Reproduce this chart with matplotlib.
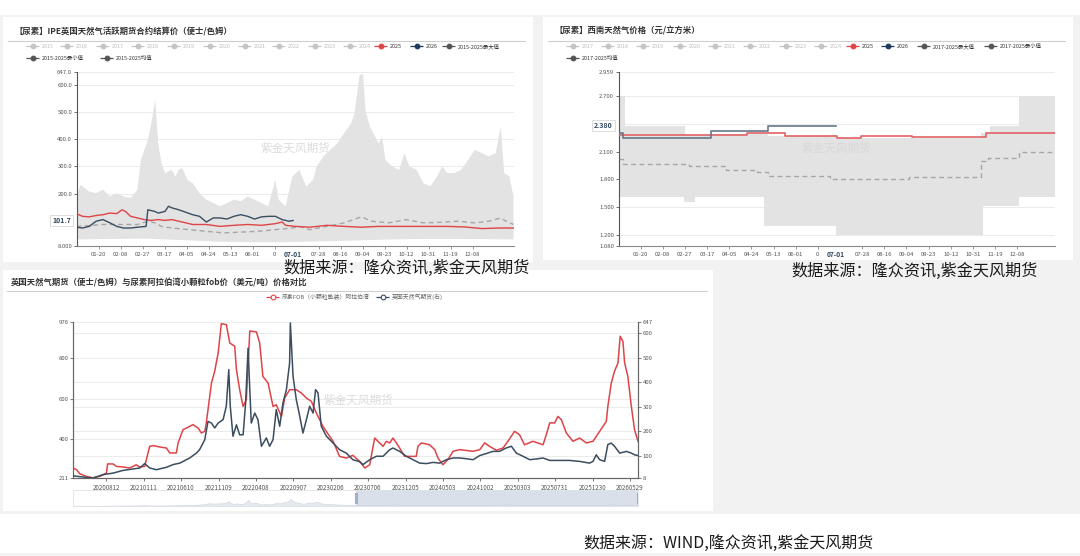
import matplotlib
matplotlib.use('Agg')
import matplotlib.pyplot as plt
from matplotlib.patches import Rectangle
import numpy as np

plt.rcParams['font.family'] = ['Noto Sans CJK SC', 'DejaVu Sans']
plt.rcParams['axes.unicode_minus'] = False

# ---------------- data: panel A (IPE UK gas, pence/therm, seasonal) ----------------
A_title = '【尿素】IPE英国天然气活跃期货合约结算价（便士/色姆）'
A_legend_years = ['2015', '2016', '2017', '2018', '2019', '2020', '2021', '2022', '2023', '2024']
A_legend_main = ['2025', '2026', '2015-2025最大值']
A_legend_row2 = ['2015-2025最小值', '2015-2025均值']
A_max_days = [0, 3.6, 11.0, 16.9, 22.9, 28.8, 34.8, 40.7, 46.7, 52.6, 55.6, 61.6, 64.5, 67.5, 68.1, 70.5,
              73.4, 76.4, 82.4, 85.3, 88.3, 91.3, 95.7, 100.2, 106.2, 112.1, 118.0, 124.0, 129.9, 135.9,
              141.8, 147.8, 153.7, 159.7, 165.6, 171.6, 174.5, 180.5, 186.4, 192.4, 198.3, 204.3, 207.3,
              213.2, 219.1, 225.1, 231.0, 237.0, 240.0, 244.4, 247.4, 249.5, 253.3, 257.8, 260.8, 263.8,
              266.7, 272.7, 278.6, 283.1, 287.5, 293.5, 299.4, 305.4, 311.3, 315.8, 320.2, 326.2, 332.1,
              338.1, 344.0, 350.0, 355.9, 361.9, 366.3, 369.3, 373.8, 377.3]
A_max = [190, 233, 208, 202, 215, 190, 202, 190, 184, 215, 324, 397, 458, 532, 545, 385,
         312, 276, 288, 263, 288, 294, 251, 239, 202, 178, 166, 154, 166, 178,
         172, 190, 178, 166, 154, 251, 178, 154, 263, 288, 227, 251, 300,
         337, 361, 385, 422, 458, 495, 635, 641, 507, 446, 410, 385, 410,
         324, 300, 288, 349, 300, 288, 239, 227, 263, 300, 276, 276, 288,
         324, 361, 349, 337, 349, 446, 276, 263, 190]
A_min_days = [0, 30, 60, 90, 120, 150, 180, 210, 240, 270, 300, 330, 360, 377.3]
A_min = [32, 34, 35, 30, 24, 22, 22, 25, 28, 32, 34, 34, 33, 32]
A_mean_days = [0, 11.0, 22.9, 37.8, 52.6, 61.6, 67.5, 73.4, 82.4, 97.2, 112.1, 127.0, 141.8, 156.7,
               171.6, 186.4, 192.4, 201.3, 216.2, 231.0, 245.9, 254.8, 269.7, 284.6, 299.4, 314.3,
               329.2, 344.0, 355.9, 366.3, 370.8, 377.3]
A_mean = [80, 83, 87, 87, 87, 99, 93, 80, 74, 68, 62, 56, 59, 62,
          68, 74, 80, 68, 80, 93, 115, 99, 93, 105, 93, 95,
          99, 93, 99, 111, 99, 87]
A_2025_days = [0, 5.1, 11.0, 16.9, 22.9, 28.8, 34.8, 39.3, 42.2, 46.7, 52.6, 58.6, 64.5, 70.5, 76.4,
               82.4, 88.3, 94.3, 100.2, 112.1, 124.0, 135.9, 147.8, 159.7, 171.6, 177.5, 180.5, 188.9,
               201.3, 216.2, 231.0, 245.9, 260.8, 275.6, 290.5, 305.4, 320.2, 335.1, 350.0, 364.8, 377.3]
A_2025 = [127, 117, 115, 120, 123, 129, 127, 141, 135, 117, 111, 105, 102, 105, 102,
          105, 99, 93, 87, 87, 80, 84, 87, 84, 90, 96, 84, 80,
          77, 84, 80, 77, 80, 80, 80, 80, 80, 78, 72, 74, 74]
A_2026_days = [0, 5.1, 11.0, 16.9, 22.9, 28.8, 34.8, 40.7, 46.7, 52.6, 60.1, 61.6, 67.5, 70.5, 76.4,
               79.4, 82.4, 88.3, 94.3, 100.2, 106.2, 112.1, 118.0, 124.0, 129.9, 135.9, 141.8, 147.8,
               153.7, 159.7, 165.6, 171.6, 177.5, 183.5, 187.0]
A_2026 = [77, 74, 80, 99, 105, 93, 80, 74, 74, 77, 80, 141, 135, 129, 135,
          154, 148, 141, 132, 123, 117, 96, 111, 111, 107, 117, 123, 117,
          107, 115, 117, 117, 105, 99, 101.7]
A_yticks = [8, 200, 300, 400, 500, 600, 647]
A_ylabels = ['8.000', '200.0', '300.0', '400.0', '500.0', '600.0', '647.0']
A_grid = [100, 200, 300, 400, 500, 600, 647]

# ---------------- data: panel B (southwest China gas price, yuan/m3) ----------------
B_title = '【尿素】西南天然气价格（元/立方米）'
B_legend_years = ['2017', '2018', '2019', '2020', '2021', '2022', '2023', '2024']
B_legend_main = ['2025', '2026', '2017-2025最大值', '2017-2025最小值']
B_legend_row2 = ['2017-2025均值']
B_band_days = [0, 5.6, 55.8, 57.2, 65.5, 77.9, 124.5, 128.0, 186.4, 310.9, 312.4, 318.3, 343.4, 374.4]
B_max = [2.70, 2.376, 2.376, 2.28, 2.28, 2.29, 2.29, 2.27, 2.25, 2.30, 2.30, 2.376, 2.70, 2.70]
B_min = [1.613, 1.613, 1.552, 1.552, 1.613, 1.613, 1.30, 1.30, 1.20, 1.20, 1.516, 1.516, 1.613, 1.613]
B_mean_days = [0, 4.1, 60.2, 92.6, 119.2, 128.0, 181.1, 249.0, 310.9, 316.8, 343.4, 374.4]
B_mean = [2.02, 1.97, 1.94, 1.90, 1.88, 1.837, 1.805, 1.83, 2.00, 2.03, 2.096, 2.096]
B_2025_days = [0, 110.3, 142.8, 187.0, 207.7, 251.9, 315.4, 374.4]
B_2025 = [2.279, 2.304, 2.268, 2.243, 2.268, 2.254, 2.297, 2.297]
B_2026_days = [0, 4.1, 79.4, 128.0, 186.4]
B_2026 = [2.297, 2.25, 2.32, 2.38, 2.38]
B_yticks = [1.08, 1.2, 1.5, 1.8, 2.1, 2.7, 2.959]
B_ylabels = ['1.080', '1.200', '1.500', '1.800', '2.100', '2.700', '2.959']
B_grid = [1.2, 1.5, 1.8, 2.1, 2.4, 2.7, 2.959]

# shared seasonal x ticks
S_tick_days = [19, 38, 57, 76, 95, 114, 133, 152, 171, 209, 228, 247, 266, 285, 304, 323, 342]
S_tick_labels = ['01-20', '02-08', '02-27', '03-17', '04-05', '04-24', '05-13', '06-01', '0',
                 '07-28', '08-16', '09-04', '09-23', '10-12', '10-31', '11-19', '12-08']
S_pointer_label = '07-01'

# ---------------- data: panel C (urea FOB vs UK gas) ----------------
C_title = '英国天然气期货（便士/色姆）与尿素阿拉伯湾小颗粒fob价（美元/吨）价格对比'
C_legend = ['尿素FOB（小颗粒散装）阿拉伯湾', '英国天然气期货(右)']
C_fob_dates = ['2020-03-30', '2020-04-13', '2020-04-26', '2020-05-23', '2020-06-19', '2020-07-16', '2020-07-30',
               '2020-08-12', '2020-08-17', '2020-09-08', '2020-09-21', '2020-10-18', '2020-11-14', '2020-11-28',
               '2020-12-11', '2020-12-25', '2021-01-14', '2021-02-03', '2021-02-17', '2021-03-16', '2021-04-12',
               '2021-04-25', '2021-05-22', '2021-05-29', '2021-06-18', '2021-07-15', '2021-07-28', '2021-08-18',
               '2021-08-31', '2021-09-14', '2021-09-20', '2021-09-27', '2021-10-11', '2021-10-24', '2021-11-07',
               '2021-11-20', '2021-12-10', '2021-12-24', '2022-01-13', '2022-01-20', '2022-02-02', '2022-02-16',
               '2022-03-01', '2022-03-15', '2022-04-11', '2022-04-24', '2022-05-07', '2022-05-28', '2022-06-17',
               '2022-06-30', '2022-07-21', '2022-08-03', '2022-08-23', '2022-09-19', '2022-10-09', '2022-10-30',
               '2022-11-19', '2022-12-09', '2023-01-05', '2023-02-01', '2023-02-15', '2023-03-13', '2023-04-09',
               '2023-05-06', '2023-06-02', '2023-06-23', '2023-07-13', '2023-08-02', '2023-08-22', '2023-09-05',
               '2023-09-18', '2023-10-02', '2023-10-15', '2023-10-29', '2023-11-11', '2023-12-01', '2024-01-17',
               '2024-01-24', '2024-02-07', '2024-03-11', '2024-04-01', '2024-04-14', '2024-05-04', '2024-05-24',
               '2024-06-14', '2024-07-11', '2024-09-03', '2024-09-30', '2024-10-20', '2024-11-09', '2024-12-06',
               '2025-01-02', '2025-01-22', '2025-02-18', '2025-03-10', '2025-03-30', '2025-05-03', '2025-06-13',
               '2025-06-26', '2025-07-10', '2025-07-30', '2025-08-12', '2025-08-26', '2025-09-15', '2025-10-12',
               '2025-11-08', '2025-12-05', '2026-01-01', '2026-01-28', '2026-02-24', '2026-03-02', '2026-03-16',
               '2026-03-29', '2026-04-12', '2026-04-21', '2026-05-02', '2026-05-09', '2026-05-22', '2026-06-05',
               '2026-06-18', '2026-07-02']
C_fob = [260, 252, 232, 219, 212, 219, 227,
         235, 280, 280, 268, 265, 260, 268,
         276, 265, 268, 366, 370, 363, 358,
         334, 334, 383, 448, 464, 473, 456,
         432, 440, 481, 546, 677, 734, 824,
         968, 963, 873, 857, 742, 644, 562,
         595, 932, 927, 873, 709, 677, 562,
         570, 513, 603, 644, 644, 628, 603,
         587, 530, 464, 415, 391, 317, 309,
         322, 293, 260, 276, 407, 383, 366,
         391, 383, 407, 383, 358, 317, 317,
         366, 383, 374, 350, 309, 276, 301,
         342, 350, 342, 350, 383, 366, 347,
         358, 391, 440, 423, 374, 391, 374,
         423, 481, 481, 513, 497, 432, 391,
         407, 383, 391, 440, 489, 562, 677,
         734, 775, 906, 881, 775, 709, 562,
         448, 391]
C_gas_dates = ['2020-03-30', '2020-05-10', '2020-06-19', '2020-07-30', '2020-09-08', '2020-10-18', '2020-11-28',
               '2020-12-25', '2021-01-14', '2021-02-03', '2021-03-02', '2021-04-12', '2021-05-09', '2021-06-05',
               '2021-07-15', '2021-08-11', '2021-08-24', '2021-09-14', '2021-09-27', '2021-10-11', '2021-10-24',
               '2021-11-07', '2021-11-27', '2021-12-10', '2021-12-20', '2021-12-26', '2022-01-06', '2022-01-20',
               '2022-02-02', '2022-02-16', '2022-02-26', '2022-03-08', '2022-03-15', '2022-03-21', '2022-04-04',
               '2022-04-17', '2022-05-01', '2022-05-21', '2022-06-03', '2022-06-17', '2022-06-30', '2022-07-14',
               '2022-07-27', '2022-08-10', '2022-08-23', '2022-08-26', '2022-09-06', '2022-09-19', '2022-10-03',
               '2022-10-16', '2022-10-30', '2022-11-12', '2022-11-26', '2022-12-06', '2022-12-16', '2022-12-29',
               '2023-01-19', '2023-02-15', '2023-03-13', '2023-04-09', '2023-05-06', '2023-06-02', '2023-06-16',
               '2023-07-13', '2023-08-09', '2023-09-05', '2023-10-02', '2023-10-15', '2023-11-11', '2023-12-08',
               '2024-01-04', '2024-01-31', '2024-02-27', '2024-03-25', '2024-04-21', '2024-05-18', '2024-06-14',
               '2024-07-11', '2024-08-07', '2024-09-03', '2024-09-30', '2024-10-26', '2024-11-22', '2024-12-19',
               '2025-01-15', '2025-02-05', '2025-02-25', '2025-03-24', '2025-04-20', '2025-05-17', '2025-06-13',
               '2025-07-10', '2025-08-19', '2025-09-28', '2025-11-08', '2025-12-18', '2026-01-01', '2026-01-14',
               '2026-01-28', '2026-02-17', '2026-03-02', '2026-03-16', '2026-03-29', '2026-04-19', '2026-05-16',
               '2026-06-05', '2026-06-18', '2026-07-02']
C_gas = [17, 12, 8, 22, 28, 39, 45,
         49, 67, 49, 42, 52, 63, 69,
         90, 110, 124, 165, 240, 233, 213,
         233, 247, 302, 452, 302, 179, 226,
         185, 185, 315, 540, 370, 233, 274,
         247, 138, 172, 138, 165, 288, 220,
         315, 370, 479, 643, 424, 329, 261,
         192, 247, 302, 274, 370, 356, 220,
         179, 151, 124, 110, 83, 75, 63,
         83, 97, 97, 124, 131, 117, 97,
         83, 69, 67, 72, 69, 83, 90,
         90, 87, 83, 100, 108, 117, 117,
         131, 138, 110, 97, 83, 86, 90,
         80, 80, 80, 76, 69, 76, 103,
         83, 76, 145, 151, 138, 110, 117,
         110, 103, 100]
C_tick_dates = ['2020-08-12', '2021-01-11', '2021-06-10', '2021-11-09', '2022-04-08', '2022-09-07', '2023-02-06',
                '2023-07-06', '2023-12-05', '2024-05-03', '2024-10-02', '2025-03-03', '2025-07-31', '2025-12-30',
                '2026-05-29']
C_left_ticks = [211, 400, 600, 800, 976]
C_right_ticks = [8, 100, 200, 300, 400, 500, 600, 647]
C_zoom_start = '2023-05-20'

SOURCE_1 = '数据来源：隆众资讯,紫金天风期货'
SOURCE_2 = '数据来源：WIND,隆众资讯,紫金天风期货'
WATERMARK = '紫金天风期货'

# ---------------- colours ----------------
RED = '#de4448'
NAVY = '#3b4d5f'
BAND = '#e3e3e3'
MEAN = '#a6a6a6'
GRID = '#ebebeb'
TXT = '#555555'
POINTER = '#34495e'

W, H = 1080, 556
fig = plt.figure(figsize=(W / 100, H / 100), dpi=100)
fig.patch.set_facecolor('white')


def fbox(x0, y0, x1, y1):
    return [x0 / W, 1 - y1 / H, (x1 - x0) / W, (y1 - y0) / H]


bg = fig.add_axes([0, 0, 1, 1], zorder=0)
bg.set_xlim(0, W)
bg.set_ylim(H, 0)
bg.axis('off')

# background and panels
bg.add_patch(Rectangle((0, 15), W, 499, color='#f2f2f2', lw=0))
bg.add_patch(Rectangle((0, 553), W, 3, color='#f2f2f2', lw=0))
for (x0, y0, x1, y1) in [(3, 17, 533, 262), (543, 17, 1073, 260), (3, 270, 713, 511)]:
    bg.add_patch(Rectangle((x0, y0), x1 - x0, y1 - y0, color='white', lw=0))

# titles and separators
bg.text(14, 31, A_title, fontsize=6, fontweight='bold', color='#333333', va='center')
bg.text(554, 31, B_title, fontsize=6, fontweight='bold', color='#333333', va='center')
bg.text(11, 283, C_title, fontsize=6, fontweight='bold', color='#333333', va='center')
bg.plot([8, 525], [40.5, 40.5], color='#cfcfcf', lw=0.8)
bg.plot([548, 1065], [40.5, 40.5], color='#cfcfcf', lw=0.8)
bg.plot([7, 707], [291, 291], color='#cfcfcf', lw=0.8)


def legend_item(x, y, label, color, tcolor, fs=3.9, open_marker=False, lw=0.9):
    bg.plot([x, x + 13], [y, y], color=color, lw=lw, solid_capstyle='butt')
    bg.plot([x + 6.5], [y], marker='o', ms=3.4, color=color,
            mfc='white' if open_marker else color, mew=0.8)
    bg.text(x + 16, y, label, fontsize=fs, color=tcolor, va='center', ha='left')


GRAYL = '#c4c4c4'
# legend A
for x, lab in zip([26, 60, 96, 131, 167, 203, 238, 272, 308, 343], A_legend_years):
    legend_item(x, 46, lab, GRAYL, '#bdbdbd')
for x, lab, c in zip([374, 410, 442], A_legend_main, [RED, '#1f3a5a', '#555555']):
    legend_item(x, 46, lab, c, '#333333')
for x, lab in zip([26, 100], A_legend_row2):
    legend_item(x, 58, lab, '#555555', '#333333')
# legend B
for x, lab in zip([566, 601, 636, 673, 708, 743, 779, 814], B_legend_years):
    legend_item(x, 46, lab, GRAYL, '#bdbdbd')
for x, lab, c in zip([846, 881, 917, 984], B_legend_main, [RED, '#1f3a5a', '#555555', '#555555']):
    legend_item(x, 46, lab, c, '#333333')
legend_item(566, 58, B_legend_row2[0], '#555555', '#333333')
# legend C
legend_item(266, 297, C_legend[0], RED, '#666666', fs=4.2, open_marker=True)
legend_item(376, 297, C_legend[1], NAVY, '#666666', fs=4.2, open_marker=True)

# captions
bg.text(283, 268, SOURCE_1, fontsize=11.6, color='#1a1a1a', va='center', ha='left')
bg.text(791, 271, SOURCE_1, fontsize=11.6, color='#1a1a1a', va='center', ha='left')
bg.text(583, 543, SOURCE_2, fontsize=11.5, color='#1a1a1a', va='center', ha='left')


def style_season(ax, yticks, ylabels, grid_vals, ylim, xmax):
    ax.set_facecolor('none')
    for s in ['top', 'right']:
        ax.spines[s].set_visible(False)
    ax.spines['left'].set_color('#555555')
    ax.spines['left'].set_linewidth(0.8)
    ax.spines['bottom'].set_color('#8a8a8a')
    ax.spines['bottom'].set_linewidth(0.8)
    ax.set_ylim(*ylim)
    ax.set_xlim(0, xmax)
    ax.set_yticks(yticks, ylabels)
    ax.set_xticks(S_tick_days, S_tick_labels)
    ax.tick_params(axis='y', length=2.2, width=0.6, colors='#555555', labelsize=4.3, pad=1)
    ax.tick_params(axis='x', length=2.0, width=0.6, colors='#8a8a8a', labelcolor='#555555',
                   labelsize=4.3, pad=2)
    for g in grid_vals:
        ax.axhline(g, color=GRID, lw=0.7, zorder=0)


# ---------------- panel A ----------------
axA = fig.add_axes(fbox(76.5, 72, 513.5, 246), zorder=1)
style_season(axA, A_yticks, A_ylabels, A_grid, (8, 647), A_max_days[-1])
axA.fill(np.r_[A_max_days, A_min_days[::-1]], np.r_[A_max, A_min[::-1]], color=BAND, lw=0, zorder=1)
axA.plot(A_mean_days, A_mean, color=MEAN, lw=1.0, dashes=(3.5, 2.5), zorder=2)
axA.plot(A_2025_days, A_2025, color=RED, lw=1.0, zorder=3)
axA.plot(A_2026_days, A_2026, color=NAVY, lw=1.0, zorder=4)
axA.text(0.5, 0.56, WATERMARK, transform=axA.transAxes, fontsize=8.4, color='#dcdcdc',
         ha='center', va='center', zorder=5)
axA.text(-0.013, A_2026[-1], f'{A_2026[-1]:.1f}', transform=axA.get_yaxis_transform(),
         ha='right', va='center', fontsize=5.0, fontweight='bold', color=POINTER, zorder=6,
         bbox=dict(boxstyle='square,pad=0.3', fc='white', ec='#cfcfcf', lw=0.5))
axA.text(A_2026_days[-1], -0.03, S_pointer_label, transform=axA.get_xaxis_transform(),
         ha='center', va='top', fontsize=4.8, fontweight='bold', color=POINTER, zorder=6)

# ---------------- panel B ----------------
axB = fig.add_axes(fbox(618.5, 72, 1055, 246), zorder=1)
style_season(axB, B_yticks, B_ylabels, B_grid, (1.08, 2.959), B_band_days[-1])
axB.fill_between(B_band_days, B_min, B_max, step='post', color=BAND, lw=0, zorder=1)
axB.step(B_mean_days, B_mean, where='post', color=MEAN, lw=1.0, dashes=(3.5, 2.5), zorder=2)
axB.step(B_2025_days, B_2025, where='post', color='#e06266', lw=1.2, zorder=3)
axB.step(B_2026_days, B_2026, where='post', color='#66778a', lw=1.2, zorder=4)
axB.text(0.5, 0.56, WATERMARK, transform=axB.transAxes, fontsize=8.4, color='#d8d8d8',
         ha='center', va='center', zorder=5)
axB.text(-0.013, B_2026[-1], f'{B_2026[-1]:.3f}', transform=axB.get_yaxis_transform(),
         ha='right', va='center', fontsize=5.0, fontweight='bold', color=POINTER, zorder=6,
         bbox=dict(boxstyle='square,pad=0.3', fc='white', ec='#cfcfcf', lw=0.5))
axB.text(B_2026_days[-1], -0.03, S_pointer_label, transform=axB.get_xaxis_transform(),
         ha='center', va='top', fontsize=4.8, fontweight='bold', color=POINTER, zorder=6)

# ---------------- panel C ----------------
fob_d = np.array(C_fob_dates, dtype='datetime64[D]')
gas_d = np.array(C_gas_dates, dtype='datetime64[D]')
tick_d = np.array(C_tick_dates, dtype='datetime64[D]')

axC = fig.add_axes(fbox(73, 322, 638, 478), zorder=1)
axC.set_facecolor('none')
axC2 = axC.twinx()
axC2.set_facecolor('none')
axC.set_xlim(fob_d[0], fob_d[-1])
axC.set_ylim(C_left_ticks[0], C_left_ticks[-1])
axC2.set_ylim(C_right_ticks[0], C_right_ticks[-1])
for g in C_left_ticks[1:]:
    axC.plot([0, 1], [g, g], transform=axC.get_yaxis_transform(), color=GRID, lw=0.7, zorder=0)
for g in C_right_ticks[1:]:
    axC.plot([0, 1], [g, g], transform=axC2.get_yaxis_transform(), color=GRID, lw=0.7, zorder=0)
axC.plot(fob_d, C_fob, color=RED, lw=1.1, zorder=3)
axC2.plot(gas_d, C_gas, color=NAVY, lw=1.1, zorder=3)
axC.set_xticks(tick_d, [str(d).replace('-', '') for d in C_tick_dates])
axC.set_yticks(C_left_ticks, [str(v) for v in C_left_ticks])
axC2.set_yticks(C_right_ticks, [str(v) for v in C_right_ticks])
for a in (axC, axC2):
    a.spines['top'].set_visible(False)
    for s in ['left', 'right', 'bottom']:
        a.spines[s].set_color('#666666')
        a.spines[s].set_linewidth(0.8)
axC.tick_params(axis='y', length=2.2, width=0.6, colors='#666666', labelcolor=TXT, labelsize=4.3, pad=1)
axC2.tick_params(axis='y', length=2.2, width=0.6, colors='#666666', labelcolor=TXT, labelsize=4.3, pad=1)
axC.tick_params(axis='x', length=2.0, width=0.6, colors='#666666', labelcolor=TXT, labelsize=4.5, pad=2)
axC.text(0.505, 0.5, WATERMARK, transform=axC.transAxes, fontsize=8.4, color='#dcdcdc',
         ha='center', va='center', zorder=1)

# slider (data zoom overview)
axS = fig.add_axes(fbox(73, 490, 638, 506), zorder=1)
axS.set_xlim(fob_d[0], fob_d[-1])
axS.set_ylim(0, max(C_gas) * 2.2)
axS.fill_between(gas_d, 0, C_gas, color='#e6eaf0', lw=0.5, edgecolor='#d3d9e2')
axS.axvspan(np.datetime64(C_zoom_start), fob_d[-1], color='#cdd6e4', alpha=0.75, lw=0)
for d in [np.datetime64(C_zoom_start), fob_d[-1]]:
    axS.axvline(d, ymin=0.25, ymax=0.75, color='#9fb0c8', lw=2.2)
axS.set_xticks([])
axS.set_yticks([])
for s in axS.spines.values():
    s.set_color('#dfe4ea')
    s.set_linewidth(0.6)
axS.set_facecolor('white')

fig.savefig('out.png', dpi=100)
